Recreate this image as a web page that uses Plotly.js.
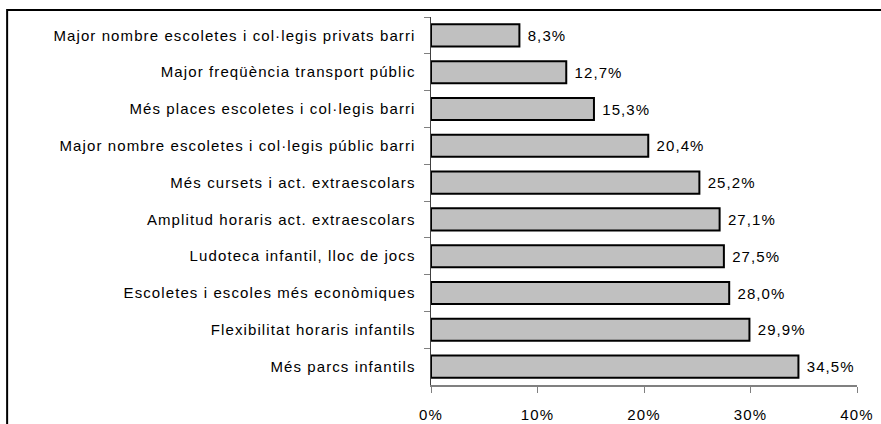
<!DOCTYPE html>
<html>
<head>
<meta charset="utf-8">
<script src="https://cdn.plot.ly/plotly-3.0.1.min.js"></script>
<style>
  body { margin: 0; background: #fff; }
  #chart { width: 881px; height: 424px; }
  /* el text original és força espaiat */
  svg text { letter-spacing: 1.1px; }
</style>
</head>
<body>
<div id="chart"></div>
<script>
// categories from top to bottom
const categories = [
    'Major nombre escoletes i col·legis privats barri',
    'Major freqüència transport públic',
    'Més places escoletes i col·legis barri',
    'Major nombre escoletes i col·legis públic barri',
    'Més cursets i act. extraescolars',
    'Amplitud horaris act. extraescolars',
    'Ludoteca infantil, lloc de jocs',
    'Escoletes i escoles més econòmiques',
    'Flexibilitat horaris infantils',
    'Més parcs infantils'
];
const percentages = [8.3, 12.7, 15.3, 20.4, 25.2, 27.1, 27.5, 28.0, 29.9, 34.5];
const xTicks = [0, 10, 20, 30, 40];
const xTickLabels = ['0%', '10%', '20%', '30%', '40%'];

// etiquetes amb coma decimal
const barLabels = percentages.map(v => '\u00a0' + v.toFixed(1).replace('.', ',') + '%');

const trace = {
    type: 'bar',
    orientation: 'h',
    x: percentages,
    y: categories,
    text: barLabels,
    textposition: 'outside',
    cliponaxis: false,
    textfont: { family: 'Liberation Sans, Arial, sans-serif', size: 15, color: '#000' },
    marker: {
        color: '#c0c0c0',
        line: { color: '#000', width: 2 }
    },
    hoverinfo: 'none'
};

const layout = {
    width: 881,
    height: 424,
    margin: { l: 431, r: 24, t: 17, b: 39 },
    bargap: 0.4,
    showlegend: false,
    paper_bgcolor: '#ffffff',
    plot_bgcolor: '#ffffff',
    font: { family: 'Liberation Sans, Arial, sans-serif', size: 15, color: '#000' },
    xaxis: {
        range: [0, 40],
        tickvals: xTicks,
        ticktext: xTickLabels,
        ticks: 'outside',
        ticklen: 6,
        tickcolor: '#808080',
        showline: true,
        linecolor: '#808080',
        linewidth: 1.5,
        showgrid: false,
        zeroline: false,
        ticklabelstandoff: 9
    },
    yaxis: {
        type: 'category',
        autorange: 'reversed',
        ticks: 'outside',
        tickson: 'boundaries',
        ticklen: 6,
        tickcolor: '#808080',
        showline: true,
        linecolor: '#404040',
        linewidth: 1.5,
        showgrid: false,
        zeroline: false,
        ticklabelstandoff: 11
    },
    shapes: [{
        type: 'rect',
        xref: 'paper', yref: 'paper',
        x0: -0.995, x1: 1.2,
        y0: -0.2, y1: 1.019,
        line: { color: '#000', width: 2 },
        fillcolor: 'rgba(0,0,0,0)',
        layer: 'below'
    }]
};

Plotly.newPlot('chart', [trace], layout, { displayModeBar: false, staticPlot: true });
</script>
</body>
</html>
